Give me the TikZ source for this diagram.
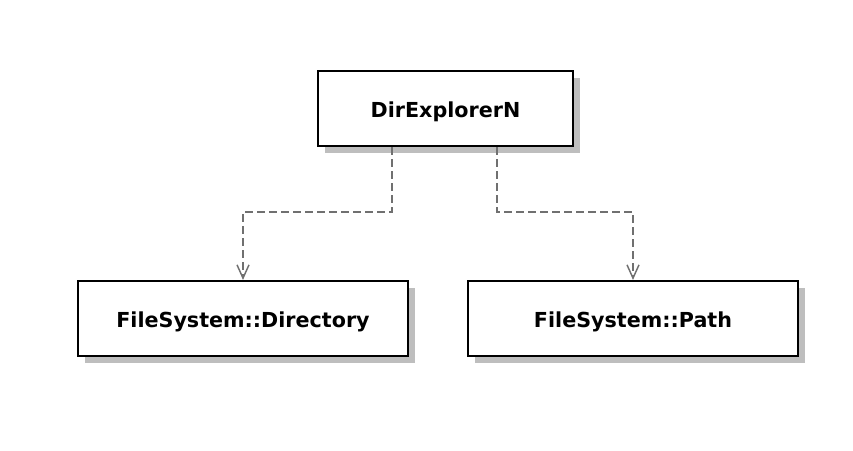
\documentclass[tikz,border=0pt]{standalone}
\usepackage{fontspec}
\setmainfont{DejaVu Sans}
\usetikzlibrary{arrows.meta,shadows}
\definecolor{boxshadow}{RGB}{190,190,190}
\definecolor{depline}{RGB}{112,112,112}
\tikzset{
  classbox/.style={draw=black,line width=1.6pt,fill=white,inner sep=0pt,
    minimum height=75*0.75pt,text height=15pt,text depth=1.5pt,
    font=\fontsize{15.5}{18}\selectfont\bfseries,
    drop shadow={shadow xshift=5.5pt,shadow yshift=-5.5pt,fill=boxshadow,opacity=1}},
  dep/.style={draw=depline,line width=1.7pt,dash pattern=on 6pt off 3pt,
    -{Straight Barb[length=10pt,width=9pt,line width=1.1pt]}}
}
\begin{document}
\begin{tikzpicture}[x=0.75pt,y=-0.75pt]
      \useasboundingbox (0,0) rectangle (853,450);

      \begin{scope}[every node/.style={classbox}]
        \node[minimum width=255*0.75pt] (dir)    at (445.5,108.5) {DirExplorerN};
        \node[minimum width=330*0.75pt] (fsdir)  at (243,318.5)   {FileSystem::Directory};
        \node[minimum width=330*0.75pt] (fspath) at (633,318.5)   {FileSystem::Path};
      \end{scope}

      \begin{scope}[every path/.style={dep}]
        \draw (392,0 |- dir.south) -- (392,212) -| (fsdir.north);
        \draw (497,0 |- dir.south) -- (497,212) -| (fspath.north);
      \end{scope}

    \end{tikzpicture}
\end{document}
